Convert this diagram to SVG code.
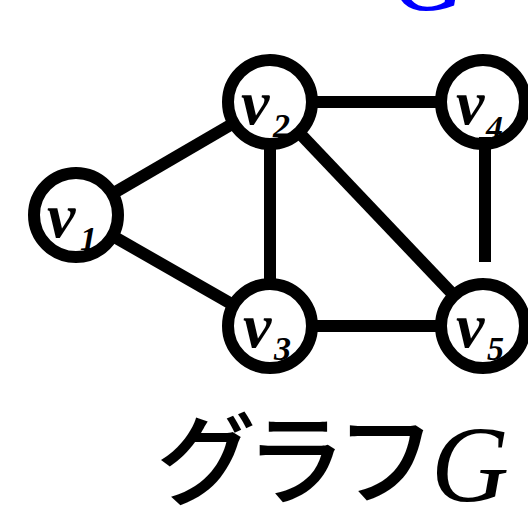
<svg xmlns="http://www.w3.org/2000/svg" width="528" height="509" viewBox="0 0 528 509">
<style>
.edge{stroke:#000;stroke-width:12;fill:none}
.fill{fill:#fff;stroke:none}
.ring{fill:none;stroke:#000;stroke-width:12}
.lbl{font-family:"Liberation Serif","Times New Roman",serif;font-style:italic;font-weight:bold;font-size:64px;fill:#000}
.sub{font-family:"Liberation Serif","Times New Roman",serif;font-style:italic;font-weight:bold;font-size:34px;fill:#000}
.cap{font-family:"Noto Sans CJK JP","Noto Sans",sans-serif;font-weight:500;font-size:100px;letter-spacing:-10px;fill:#000}
.capg{font-family:"Liberation Serif","Times New Roman",serif;font-style:italic;font-size:108px;fill:#000}
</style>
<rect width="528" height="509" fill="#fff"/>
<text x="390" y="10" class="capg" style="fill:#00f">G</text>
<g id="edges">
<line class="edge" x1="76" y1="215" x2="270" y2="102"/>
<line class="edge" x1="76" y1="215" x2="270" y2="326"/>
<line class="edge" x1="270" y1="102" x2="270" y2="326"/>
<line class="edge" x1="270" y1="102" x2="483" y2="102"/>
<line class="edge" x1="270" y1="102" x2="483" y2="326"/>
<line class="edge" x1="270" y1="326" x2="483" y2="326"/>
</g>
<g id="v1"><circle class="fill" cx="76" cy="215" r="42"/><text class="lbl" x="47" y="237">v</text><text class="sub" x="80" y="250">1</text><circle class="ring" cx="76" cy="215" r="42"/></g>
<g id="v2"><circle class="fill" cx="270" cy="102" r="42"/><text class="lbl" x="241" y="124">v</text><text class="sub" x="273" y="137">2</text><circle class="ring" cx="270" cy="102" r="42"/></g>
<g id="v3"><circle class="fill" cx="270" cy="326" r="42"/><text class="lbl" x="243" y="347">v</text><text class="sub" x="274" y="360">3</text><circle class="ring" cx="270" cy="326" r="42"/></g>
<g id="v4"><circle class="fill" cx="483" cy="102" r="42"/><text class="lbl" x="456" y="124">v</text><text class="sub" x="486" y="139">4</text><circle class="ring" cx="483" cy="102" r="42"/></g>
<g id="v5"><circle class="fill" cx="483" cy="326" r="42"/><text class="lbl" x="456" y="347">v</text><text class="sub" x="487" y="360">5</text><circle class="ring" cx="483" cy="326" r="42"/></g>
<g id="edge-v4-v5"><line class="edge" x1="485" y1="137" x2="485" y2="262"/></g>
<g id="caption"><text class="cap" x="156" y="497">グラフ</text><text class="capg" x="431" y="501">G</text></g>
</svg>
